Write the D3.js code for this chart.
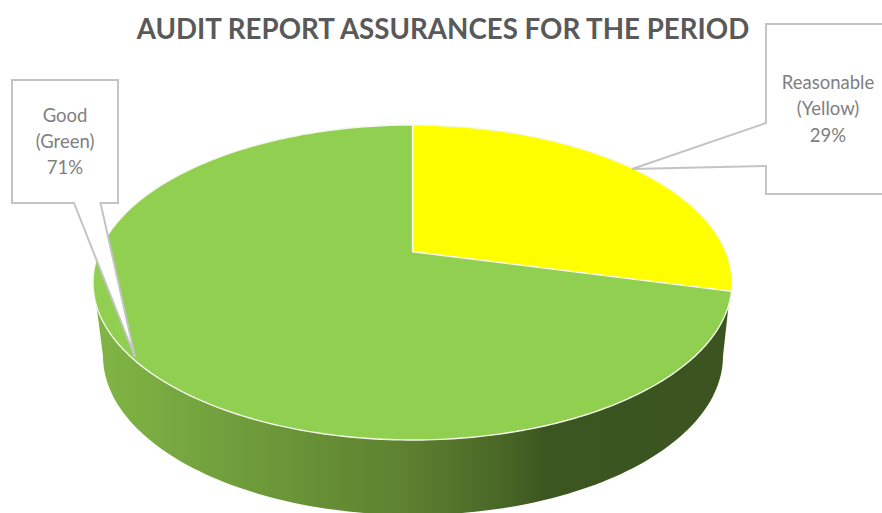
<!DOCTYPE html>
<html>
<head>
<meta charset="utf-8">
<style>
  html, body { margin: 0; padding: 0; background: #fff; }
  svg { display: block; }
  text { font-family: Lato, "Open Sans", sans-serif; }
</style>
<script src="https://cdn.jsdelivr.net/npm/d3@7"></script>
</head>
<body>
<svg id="chart" width="882" height="513"></svg>
<script>
const chartTitle = "AUDIT REPORT ASSURANCES FOR THE PERIOD";
const categories = ["Reasonable", "Good"];
const colourNames = ["Yellow", "Green"];
const shares = [29, 71];
const sliceColours = ["#ffff00", "#90cf50"];

const svg = d3.select("#chart");

// Top face: unit disc mapped to pixels, tilted so the hub sits above the ellipse centre
const face = { cx: 412.5, cy: 282.5, rx: 319.5, ry: 157.5, shift: 0.195 };
const base = { cx: 413, cy: 356, rx: 310, ry: 159 };
const xScale = d3.scaleLinear().domain([-1, 1]).range([face.cx - face.rx, face.cx + face.rx]);
const yScale = d3.scaleLinear().domain([-1, 1]).range([face.cy - face.ry, face.cy + face.ry]);

// Perspective projection of a disc point; angle runs clockwise from twelve o'clock
function project(angle, r) {
  const x = r * Math.sin(angle), v = -r * Math.cos(angle), c = face.shift;
  const w = 1 - c * v;
  return [xScale(x * Math.sqrt(1 - c * c) / w), yScale((v - c) / w)];
}

const arcs = d3.pie().sort(null).value(d => d)(shares);
const line = d3.line();

// Side wall of the disc with its left-to-right shading
const defs = svg.append("defs");
const wallGradient = defs.append("linearGradient")
  .attr("id", "wallShade")
  .attr("gradientUnits", "userSpaceOnUse")
  .attr("x1", 97).attr("x2", 730).attr("y1", 0).attr("y2", 0);
[[0, "#80b545"], [0.3, "#6a9538"], [0.48, "#5e8230"], [0.637, "#4a6727"], [0.708, "#3c5620"], [1, "#3b5420"]]
  .forEach(([o, c]) => wallGradient.append("stop").attr("offset", o).attr("stop-color", c));

const rimStart = Math.asin(23 / face.ry);
const rimEnd = Math.PI - rimStart;
const rimPoints = d3.range(0, 121).map(i => {
  const t = rimStart + (rimEnd - rimStart) * i / 120;
  return [face.cx + face.rx * Math.cos(t), face.cy + face.ry * Math.sin(t)];
});
const basePoints = d3.range(0, 121).map(i => {
  const t = Math.PI * i / 120;
  return [base.cx - base.rx * Math.cos(t), base.cy + base.ry * Math.sin(t)];
});
svg.append("path")
  .attr("d", line(rimPoints.concat(basePoints)) + "Z")
  .attr("fill", "url(#wallShade)");

// Top-face slices, built from the pie layout's angles
svg.append("g").selectAll("path")
  .data(arcs)
  .join("path")
  .attr("d", d => {
    const n = Math.max(2, Math.ceil((d.endAngle - d.startAngle) * 60));
    const edge = d3.range(0, n + 1).map(i =>
      project(d.startAngle + (d.endAngle - d.startAngle) * i / n, 1));
    return line([project(0, 0), ...edge]) + "Z";
  })
  .attr("fill", (d, i) => sliceColours[i])
  .attr("stroke", "#f4f7ea")
  .attr("stroke-width", 1.4)
  .attr("stroke-linejoin", "round");

// Title
svg.append("text")
  .attr("x", 443).attr("y", 39)
  .attr("text-anchor", "middle")
  .attr("font-size", 27.7)
  .attr("font-weight", 700)
  .attr("fill", "#595959")
  .text(chartTitle);

// Callouts: white boxes with a pointer running to the slice
const callouts = [
  { index: 1, cx: 65, lines: [122, 148, 174],
    outline: [[12, 80], [118, 80], [118, 203], [100.5, 203], [135, 357], [74, 203], [12, 203]] },
  { index: 0, cx: 828, lines: [89, 115, 142],
    outline: [[766, 24], [890, 24], [890, 194], [766, 194], [766, 166], [632, 169], [766, 123]] }
];
const calloutLayer = svg.append("g");
callouts.forEach(c => {
  calloutLayer.append("path")
    .attr("d", line(c.outline) + "Z")
    .attr("fill", "#fff")
    .attr("stroke", "#c4c4c4")
    .attr("stroke-width", 2)
    .attr("stroke-linejoin", "miter");
  const texts = [categories[c.index], `(${colourNames[c.index]})`, `${shares[c.index]}%`];
  texts.forEach((t, i) => {
    calloutLayer.append("text")
      .attr("x", c.cx).attr("y", c.lines[i])
      .attr("text-anchor", "middle")
      .attr("font-size", 18.5)
      .attr("fill", "#808080")
      .text(t);
  });
});
</script>
</body>
</html>
